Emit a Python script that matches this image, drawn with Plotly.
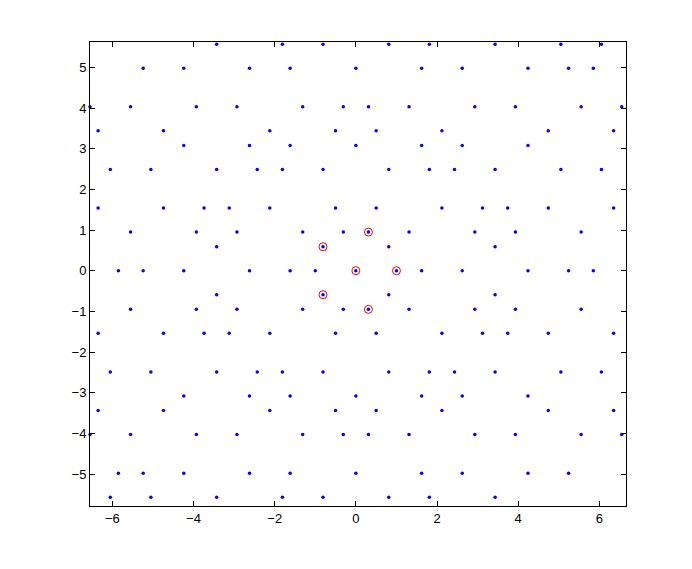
import plotly.graph_objects as go

# filas de puntos azules: valor de y y los x de cada fila
filas_y = [5.57, 4.98, 4.03, 3.44, 3.08, 2.49, 1.54, 0.95, 0.59, 0.0,
           -0.59, -0.95, -1.54, -2.49, -3.08, -3.44, -4.03, -4.98, -5.57]

filas_x = [
    [-3.43, -1.81, -0.81, 0.81, 1.81, 3.43, 5.05, 6.05],
    [-5.24, -4.24, -2.62, -1.62, 0.0, 1.62, 2.62, 4.24, 5.24, 5.85],
    [-6.55, -5.55, -3.93, -2.93, -1.31, -0.31, 0.31, 1.31, 2.93, 3.93, 5.55, 6.55],
    [-6.35, -4.74, -2.12, -0.5, 0.5, 2.12, 4.74, 6.35],
    [-4.24, -2.62, -1.62, 0.0, 1.62, 2.62, 4.24],
    [-6.05, -5.05, -3.43, -2.43, -1.81, -0.81, 0.81, 1.81, 2.43, 3.43, 5.05, 6.05],
    [-6.35, -4.74, -3.74, -3.12, -2.12, -0.5, 0.5, 2.12, 3.12, 3.74, 4.74, 6.35],
    [-5.55, -3.93, -2.93, -1.31, -0.31, 0.31, 1.31, 2.93, 3.93, 5.55],
    [-3.43, -0.81, 0.81, 3.43],
    [-5.85, -5.24, -4.24, -2.62, -1.62, -1.0, 0.0, 1.0, 1.62, 2.62, 4.24, 5.24, 5.85],
    [-3.43, -0.81, 0.81, 3.43],
    [-5.55, -3.93, -2.93, -1.31, -0.31, 0.31, 1.31, 2.93, 3.93, 5.55],
    [-6.35, -4.74, -3.74, -3.12, -2.12, -0.5, 0.5, 2.12, 3.12, 3.74, 4.74, 6.35],
    [-6.05, -5.05, -3.43, -2.43, -1.81, -0.81, 0.81, 1.81, 2.43, 3.43, 5.05, 6.05],
    [-4.24, -2.62, -1.62, 0.0, 1.62, 2.62, 4.24],
    [-6.35, -4.74, -2.12, -0.5, 0.5, 2.12, 4.74, 6.35],
    [-6.55, -5.55, -3.93, -2.93, -1.31, -0.31, 0.31, 1.31, 2.93, 3.93, 5.55, 6.55],
    [-5.85, -5.24, -4.24, -2.62, -1.62, 0.0, 1.62, 2.62, 4.24, 5.24],
    [-6.05, -5.05, -3.43, -1.81, -0.81, 0.81, 1.81, 3.43],
]

# puntos marcados con circulo rojo
rojos_x = [0.0, 1.0, 0.31, -0.81, -0.81, 0.31]
rojos_y = [0.0, 0.0, 0.95, 0.59, -0.59, -0.95]

xticks = [-6, -4, -2, 0, 2, 4, 6]
yticks = [-5, -4, -3, -2, -1, 0, 1, 2, 3, 4, 5]

azul_x = []
azul_y = []
for y, xs in zip(filas_y, filas_x):
    for x in xs:
        azul_x.append(x)
        azul_y.append(y)

fig = go.Figure()
fig.add_scatter(x=azul_x, y=azul_y, mode='markers',
                marker=dict(color='#0000ff', size=3.5, symbol='circle'),
                showlegend=False, cliponaxis=False)
fig.add_scatter(x=rojos_x, y=rojos_y, mode='markers',
                marker=dict(color='#ff0000', size=8, symbol='circle-open',
                            line=dict(width=1, color='#ff0000')),
                showlegend=False)

ejes = dict(showline=True, mirror='ticks', linecolor='black', linewidth=1,
            ticks='inside', ticklen=5, tickcolor='black', tickwidth=1,
            showgrid=False, zeroline=False,
            tickfont=dict(family='Liberation Sans, Arial, sans-serif', size=13, color='black'))

fig.update_xaxes(range=[-6.55, 6.655], tickvals=xticks, **ejes)
fig.update_yaxes(range=[-5.787, 5.625], tickvals=yticks, **ejes)
# la pagina ya tiene 8px de margen, por eso la figura es algo mas chica
fig.update_layout(width=684, height=561,
                  margin=dict(l=82, r=66, t=34, b=63),
                  paper_bgcolor='white', plot_bgcolor='white')

fig.write_html("out.html")
